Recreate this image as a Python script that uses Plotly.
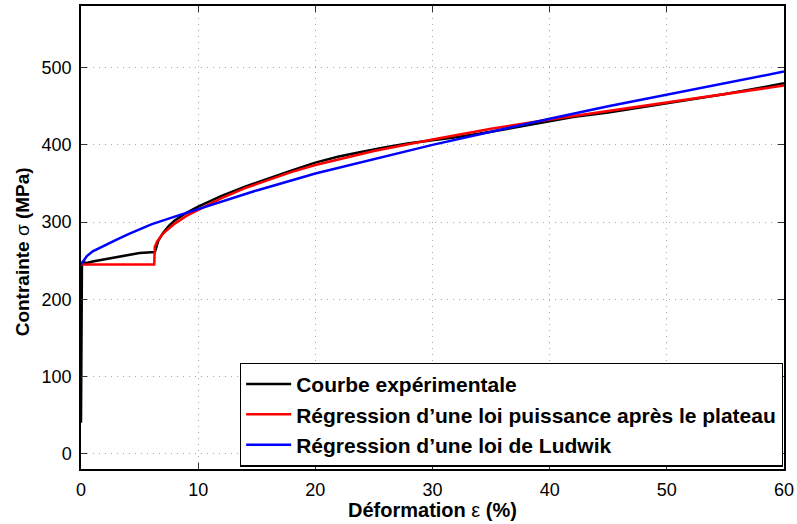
import plotly.graph_objects as go

# Courbe expérimentale
exp_x = [0, 0.03, 0.08, 0.15, 0.5, 1, 2, 3, 4, 5, 6, 6.3, 6.4, 6.6, 7, 7.5, 8, 9, 10,
         12, 14, 16, 18, 20, 22, 24, 26, 28, 30, 32, 35, 38, 40, 42, 45, 48, 50,
         52, 55, 58, 60]
exp_y = [40, 160, 245, 248, 247, 249, 252, 255, 258, 260, 261, 261, 266, 276, 286, 295,
         302, 312, 320, 334, 346, 357, 367, 377, 385, 391, 397, 402, 406, 410, 417,
         425, 431, 436, 442, 449, 454, 459, 466, 474, 480]

# Régression loi puissance après le plateau
pow_x = [0, 6.25, 6.3, 6.5, 7, 7.5, 8, 9, 10, 12, 14, 16, 18, 20, 25, 30, 35, 40,
         45, 50, 55, 60]
pow_y = [245, 245, 268, 275, 285, 292, 298, 308, 316, 331, 344, 355, 365, 374, 392,
         407, 421, 433, 444, 455, 466, 477]

# Régression loi de Ludwik
lud_x = [0, 0.5, 1, 2, 3, 4, 5, 6, 8, 10, 12, 15, 20, 25, 30, 35, 40, 45, 50, 55, 60]
lud_y = [245, 256, 262, 270, 277, 284, 291, 297, 307, 317, 327, 341, 363, 382, 400,
         417, 434, 450, 465, 480, 495]

x_ticks = [0, 10, 20, 30, 40, 50, 60]
y_ticks = [0, 100, 200, 300, 400, 500]

FONT = 'Liberation Sans, Arial, Helvetica'

fig = go.Figure()
fig.add_trace(go.Scatter(x=exp_x, y=exp_y, mode='lines',
                         name='<b>Courbe expérimentale</b>',
                         line=dict(color='black', width=2.5)))
fig.add_trace(go.Scatter(x=pow_x, y=pow_y, mode='lines',
                         name='<b>Régression d’une loi puissance après le plateau</b>',
                         line=dict(color='#ff0000', width=2.5)))
fig.add_trace(go.Scatter(x=lud_x, y=lud_y, mode='lines',
                         name='<b>Régression d’une loi de Ludwik</b>',
                         line=dict(color='#0000ff', width=2.5)))

axis_style = dict(
    showline=True, linecolor='black', linewidth=1.5, mirror='ticks',
    ticks='inside', ticklen=6, tickwidth=1.2, tickcolor='#333',
    showgrid=True, gridcolor='#a8a8a8', griddash='1px,5px', gridwidth=1,
    zeroline=False, automargin=False,
    tickfont=dict(family=FONT, size=18, color='black'),
)

fig.update_xaxes(range=[0, 60], tickvals=x_ticks, ticklabelstandoff=4, **axis_style)
fig.update_yaxes(range=[-20, 580], tickvals=y_ticks, ticklabelstandoff=4, **axis_style)

fig.update_layout(
    width=797, height=524,
    margin=dict(l=81, r=13, t=6, b=55),
    paper_bgcolor='white', plot_bgcolor='white',
    showlegend=True,
    legend=dict(x=0.9985, y=0.005, xanchor='right', yanchor='bottom',
                bgcolor='white', bordercolor='black', borderwidth=1.2,
                font=dict(family=FONT, size=21, color='black'),
                tracegroupgap=0, itemwidth=45),
    annotations=[
        dict(text='<b>Déformation </b>ε<b> (%)</b>', xref='paper', yref='paper',
             x=0.5, y=-0.088, xanchor='center', yanchor='middle', showarrow=False,
             font=dict(family=FONT, size=20, color='black')),
        dict(text='<b>Contrainte </b>σ<b> (MPa)</b>', xref='paper', yref='paper',
             x=-0.084, y=0.47, xanchor='center', yanchor='middle', showarrow=False,
             textangle=-90, font=dict(family=FONT, size=19, color='black')),
    ],
)

# pas de marge de page autour du graphique, pas de barre d'outils
fig.write_html('out.html', config={'displayModeBar': False},
               post_script="document.body.style.margin='0';")
